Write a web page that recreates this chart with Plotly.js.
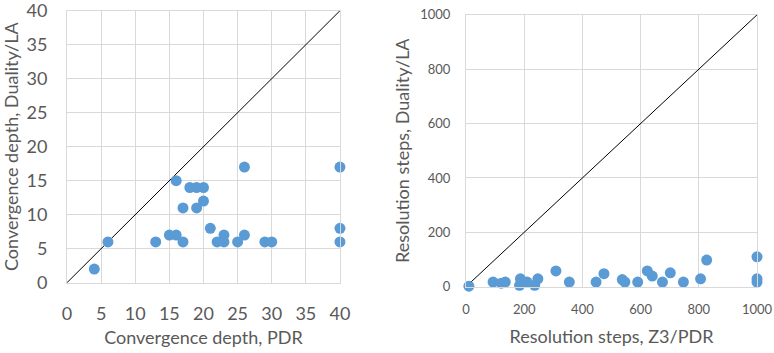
<!DOCTYPE html>
<html>
<head>
<meta charset="utf-8">
<script src="https://cdn.plot.ly/plotly-3.0.1.min.js"></script>
<style>html,body{margin:0;padding:0;background:#fff;}#chart{width:774px;height:353px;}</style>
</head>
<body>
<div id="chart"></div>
<script>
// Left chart: convergence depth
const depthPDR =      [4, 6, 13, 15, 16, 16, 17, 17, 18, 19, 20, 19, 20, 21, 22, 23, 23, 25, 26, 26, 29, 30, 40, 40, 40];
const depthDuality =  [2, 6, 6, 7, 7, 15, 6, 11, 14, 14, 14, 11, 12, 8, 6, 6, 7, 6, 7, 17, 6, 6, 17, 8, 6];
const depthDiag = [0, 40];

// Right chart: resolution steps
const stepsZ3PDR =    [10, 93, 121, 135, 187, 184, 210, 236, 247, 309, 355, 447, 474, 537, 546, 590, 623, 640, 675, 702, 747, 806, 827, 1000, 1000, 1000];
const stepsDuality =  [2, 17, 13, 17, 29, 5, 17, 5, 29, 58, 17, 17, 48, 26, 17, 17, 58, 39, 17, 51, 17, 29, 98, 110, 29, 17];
const stepsDiag = [0, 1000];

const leftTicks = [0, 5, 10, 15, 20, 25, 30, 35, 40];
const rightTicks = [0, 200, 400, 600, 800, 1000];

const FONT = 'Lato, "Open Sans", sans-serif';
const markerColor = '#5B9BD5';
const gridColor = '#d9d9d9';
const textColor = '#595959';

const traces = [
  {x: depthDiag, y: depthDiag, mode: 'lines', line: {color: '#000', width: 1}, xaxis: 'x', yaxis: 'y', hoverinfo: 'skip'},
  {x: depthPDR, y: depthDuality, mode: 'markers', marker: {color: markerColor, size: 11}, cliponaxis: false, xaxis: 'x', yaxis: 'y'},
  {x: stepsDiag, y: stepsDiag, mode: 'lines', line: {color: '#000', width: 1}, xaxis: 'x2', yaxis: 'y2', hoverinfo: 'skip'},
  {x: stepsZ3PDR, y: stepsDuality, mode: 'markers', marker: {color: markerColor, size: 11}, cliponaxis: false, xaxis: 'x2', yaxis: 'y2'}
];

function ax(o) {
  return Object.assign({
    showgrid: true, gridcolor: gridColor, gridwidth: 1,
    zeroline: false, showline: true, linecolor: gridColor, linewidth: 1, mirror: true,
    ticks: '', fixedrange: true, ticklabeloverflow: 'allow'
  }, o);
}

const layout = {
  width: 774, height: 353,
  margin: {l: 30, r: 10, t: 8, b: 35},
  paper_bgcolor: '#fff', plot_bgcolor: '#fff',
  showlegend: false,
  font: {family: FONT, color: textColor},
  xaxis: ax({domain: [0.0504, 0.4223], range: [0, 40], tickvals: leftTicks, ticktext: leftTicks.map(String),
    tickfont: {size: 18, color: textColor}, ticklabelstandoff: 15,
    title: {text: 'Convergence depth, PDR', font: {size: 18, color: textColor}, standoff: 8}, anchor: 'y'}),
  yaxis: ax({domain: [0.1139, 0.9913], range: [0, 40], tickvals: leftTicks, ticktext: leftTicks.map(String),
    tickfont: {size: 18, color: textColor}, ticklabelstandoff: 15,
    title: {text: 'Convergence depth, Duality/LA', font: {size: 18, color: textColor}, standoff: 8}, anchor: 'x'}),
  xaxis2: ax({domain: [0.594, 0.9905], range: [0, 1000], tickvals: rightTicks, ticktext: rightTicks.map(String),
    tickfont: {size: 13, color: textColor}, ticklabelstandoff: 11,
    title: {text: 'Resolution steps, Z3/PDR', font: {size: 18, color: textColor}, standoff: 14}, anchor: 'y2'}),
  yaxis2: ax({domain: [0.101, 0.978], range: [0, 1000], tickvals: rightTicks, ticktext: rightTicks.map(String),
    tickfont: {size: 13, color: textColor}, ticklabelstandoff: 12,
    title: {text: 'Resolution steps, Duality/LA', font: {size: 18, color: textColor}, standoff: 5}, anchor: 'x2'})
};

Plotly.newPlot('chart', traces, layout, {displayModeBar: false, staticPlot: true});
</script>
</body>
</html>
